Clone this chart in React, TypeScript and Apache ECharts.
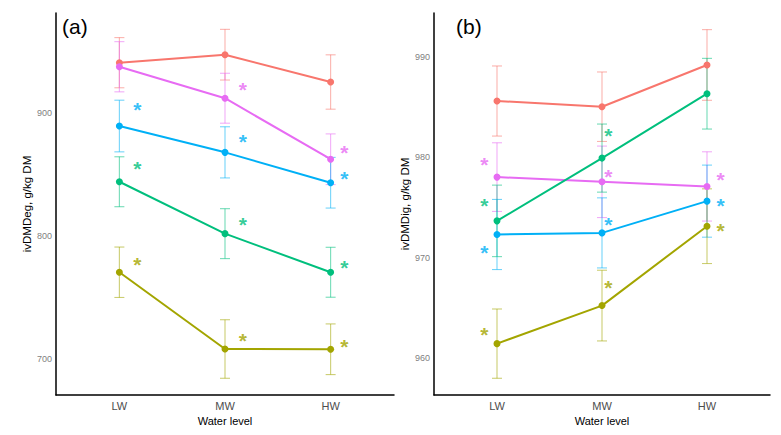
import React, { useEffect, useRef } from 'react';
import * as echarts from 'echarts';

// Water level categories on the x axis
const categories = ['LW', 'MW', 'HW'];
const groupNames = ['G1', 'G2', 'G3', 'G4', 'G5'];
const groupColors = ['#F8766D', '#E76BF3', '#00B0F6', '#00BF7D', '#A3A500'];
const groupBarColors = [
  'rgba(248,118,109,0.55)',
  'rgba(231,107,243,0.55)',
  'rgba(0,176,246,0.55)',
  'rgba(0,191,125,0.55)',
  'rgba(163,165,0,0.55)',
];

// Panel (a): ivDMDeg means and standard errors (g/kg DM)
const degG1 = [940.9, 947.4, 925.2];
const degG2 = [937.6, 912.0, 862.4];
const degG3 = [889.4, 868.0, 843.3];
const degG4 = [844.1, 801.9, 770.5];
const degG5 = [770.5, 708.1, 707.9];
const degSeG1 = [20.4, 20.6, 22.1];
const degSeG2 = [20.4, 20.3, 20.6];
const degSeG3 = [21.0, 20.8, 20.6];
const degSeG4 = [20.3, 20.3, 20.3];
const degSeG5 = [20.5, 23.8, 20.6];

// Panel (b): ivDMDig means and standard errors (g/kg DM)
const digG1 = [985.63, 985.06, 989.23];
const digG2 = [978.03, 977.56, 977.1];
const digG3 = [972.3, 972.46, 975.63];
const digG4 = [973.66, 979.93, 986.36];
const digG5 = [961.4, 965.2, 973.13];
const digSeG1 = [3.5, 3.47, 3.53];
const digSeG2 = [3.43, 3.57, 3.46];
const digSeG3 = [3.5, 3.5, 3.6];
const digSeG4 = [3.57, 3.4, 3.53];
const digSeG5 = [3.46, 3.53, 3.73];

// Significance asterisks: [category position, value]
const degStarsG1: number[][] = [];
const degStarsG2 = [[1.17, 922.8], [2.13, 871.8]];
const degStarsG3 = [[0.17, 906.5], [1.17, 880.7], [2.13, 851.0]];
const degStarsG4 = [[0.17, 859.1], [1.17, 813.8], [2.13, 778.6]];
const degStarsG5 = [[0.17, 780.5], [1.17, 719.0], [2.13, 714.6]];

const digStarsG1: number[][] = [];
const digStarsG2 = [[-0.12, 979.8], [1.06, 978.63], [2.13, 978.33]];
const digStarsG3 = [[-0.12, 970.96], [1.06, 973.8], [2.13, 975.73]];
const digStarsG4 = [[-0.12, 975.73], [1.06, 982.66]];
const digStarsG5 = [[-0.12, 962.8], [1.06, 967.5], [2.13, 973.16]];

// Axis ranges and tick labels
const degRange = [670.7, 981.3];
const degTicks = [700, 800, 900];
const digRange = [956.27, 994.42];
const digTicks = [960, 970, 980, 990];

const FONT = 'Liberation Sans, Arial, Helvetica, sans-serif';

function errorBarItem(params: any, api: any) {
  const x = api.value(0);
  const lo = api.coord([x, api.value(1)]);
  const hi = api.coord([x, api.value(2)]);
  const half = 5;
  const style = { stroke: api.visual('color'), lineWidth: 1.1 };
  return {
    type: 'group',
    children: [
      { type: 'line', shape: { x1: lo[0], y1: lo[1], x2: hi[0], y2: hi[1] }, style },
      { type: 'line', shape: { x1: lo[0] - half, y1: lo[1], x2: lo[0] + half, y2: lo[1] }, style },
      { type: 'line', shape: { x1: hi[0] - half, y1: hi[1], x2: hi[0] + half, y2: hi[1] }, style },
    ],
  };
}

function panelSeries(
  axisIndex: number,
  means: number[][],
  ses: number[][],
  stars: number[][][]
) {
  const out: any[] = [];
  means.forEach((m, g) => {
    out.push({
      type: 'custom',
      name: groupNames[g] + ' SE',
      xAxisIndex: axisIndex,
      yAxisIndex: axisIndex,
      renderItem: errorBarItem,
      itemStyle: { color: groupBarColors[g] },
      encode: { x: 0, y: [1, 2] },
      data: m.map((v, i) => [i, v - ses[g][i], v + ses[g][i]]),
      z: 2,
      silent: true,
    });
  });
  means.forEach((m, g) => {
    out.push({
      type: 'line',
      name: groupNames[g],
      xAxisIndex: axisIndex,
      yAxisIndex: axisIndex,
      data: m.map((v, i) => [i, v]),
      symbol: 'circle',
      symbolSize: 7,
      showSymbol: true,
      lineStyle: { color: groupColors[g], width: 2 },
      itemStyle: { color: groupColors[g] },
      z: 3,
    });
  });
  stars.forEach((s, g) => {
    if (!s.length) return;
    out.push({
      type: 'scatter',
      name: groupNames[g] + ' sig',
      xAxisIndex: axisIndex,
      yAxisIndex: axisIndex,
      data: s,
      symbolSize: 0.1,
      itemStyle: { color: 'rgba(0,0,0,0)' },
      label: {
        show: true,
        position: 'inside',
        formatter: '*',
        color: groupColors[g],
        fontSize: 21,
        fontWeight: 'bold',
        fontFamily: FONT,
        offset: [0, 5],
      },
      z: 4,
      silent: true,
    });
  });
  return out;
}

function xAxisFor(gridIndex: number) {
  return {
    type: 'value',
    gridIndex,
    min: -0.6,
    max: 2.6,
    name: 'Water level',
    nameLocation: 'middle',
    nameGap: 19,
    nameTextStyle: { color: '#000', fontSize: 11, fontFamily: FONT },
    axisLine: { show: true, onZero: false, lineStyle: { color: '#000', width: 1.5 } },
    axisTick: { show: false },
    splitLine: { show: false },
    axisLabel: {
      customValues: [0, 1, 2],
      formatter: (v: number) => categories[Math.round(v)] ?? '',
      color: '#4D4D4D',
      fontSize: 11,
      margin: 5,
      fontFamily: FONT,
    },
  };
}

function yAxisFor(gridIndex: number, range: number[], ticks: number[], name: string, gap: number) {
  return {
    type: 'value',
    gridIndex,
    min: range[0],
    max: range[1],
    name,
    nameLocation: 'middle',
    nameGap: gap,
    nameTextStyle: { color: '#000', fontSize: 11.5, fontFamily: FONT },
    axisLine: { show: true, onZero: false, lineStyle: { color: '#000', width: 1.5 } },
    axisTick: { show: false },
    splitLine: { show: false },
    axisLabel: {
      customValues: ticks,
      color: '#7F7F7F',
      fontSize: 9,
      margin: 4,
      fontFamily: FONT,
    },
  };
}

export default function App() {
  const ref = useRef<HTMLDivElement>(null);

  useEffect(() => {
    if (!ref.current) return;
    const chart = echarts.init(ref.current, undefined, { renderer: 'svg' });
    chart.setOption({
      animation: false,
      backgroundColor: '#fff',
      textStyle: { fontFamily: FONT },
      grid: [
        { left: 56, top: 13, width: 338, height: 382 },
        { left: 434, top: 13, width: 336, height: 382 },
      ],
      xAxis: [xAxisFor(0), xAxisFor(1)],
      yAxis: [
        yAxisFor(0, degRange, degTicks, 'ivDMDeg, g/kg DM', 19),
        yAxisFor(1, digRange, digTicks, 'ivDMDig, g/kg DM', 17),
      ],
      graphic: [
        { type: 'text', left: 62, top: 16, style: { text: '(a)', fontSize: 21, fill: '#000', fontFamily: FONT } },
        { type: 'text', left: 456, top: 16, style: { text: '(b)', fontSize: 21, fill: '#000', fontFamily: FONT } },
      ],
      series: [
        ...panelSeries(
          0,
          [degG1, degG2, degG3, degG4, degG5],
          [degSeG1, degSeG2, degSeG3, degSeG4, degSeG5],
          [degStarsG1, degStarsG2, degStarsG3, degStarsG4, degStarsG5]
        ),
        ...panelSeries(
          1,
          [digG1, digG2, digG3, digG4, digG5],
          [digSeG1, digSeG2, digSeG3, digSeG4, digSeG5],
          [digStarsG1, digStarsG2, digStarsG3, digStarsG4, digStarsG5]
        ),
      ],
    });
    return () => chart.dispose();
  }, []);

  return (
    <div
      ref={ref}
      style={{ position: 'fixed', left: 0, top: 0, width: 781, height: 435, background: '#fff' }}
    />
  );
}
